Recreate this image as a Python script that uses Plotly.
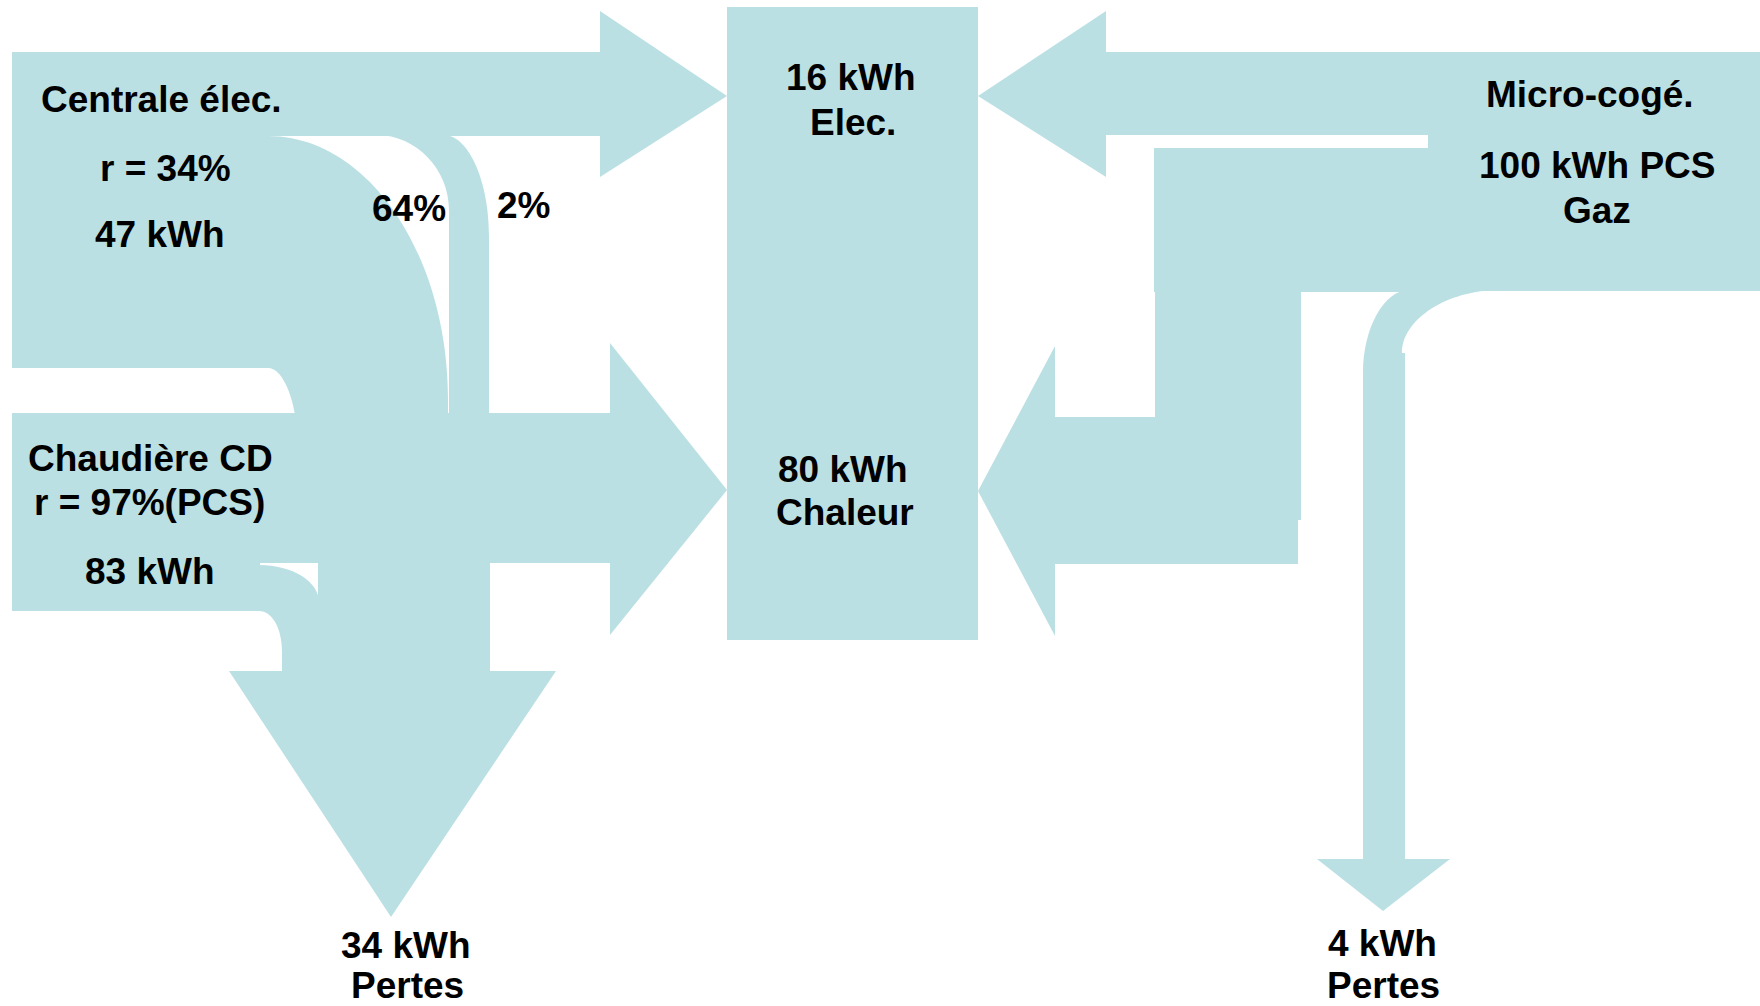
import plotly.graph_objects as go

# ---------------- data ----------------
source_names = ["Centrale élec.", "Chaudière CD", "Micro-cogé."]
source_efficiency = ["r = 34%", "r = 97%(PCS)", ""]
source_kwh = [47, 83, 100]
central_outputs = ["Elec.", "Chaleur"]
central_kwh = [16, 80]
split_pct = [64, 2]
loss_kwh = [34, 4]
loss_label = "Pertes"
gas_label = "Gaz"

COLOR = "rgb(187,224,227)"
FONT = "Liberation Sans, Arial, sans-serif"
FS = 37

W, H = 1760, 1006

fig = go.Figure()
fig.add_trace(go.Scatter(x=[0, W], y=[0, H], mode="markers",
                         marker=dict(opacity=0), hoverinfo="skip", showlegend=False))

shapes = []


def rect(x0, y0, x1, y1):
    shapes.append(dict(type="rect", xref="x", yref="y", x0=x0, y0=y0, x1=x1, y1=y1,
                       fillcolor=COLOR, line=dict(width=0), layer="below"))


def path(d):
    shapes.append(dict(type="path", xref="x", yref="y", path=d,
                       fillcolor=COLOR, line=dict(width=0), layer="below"))


# ---------- left side ----------
rect(12, 52, 269, 368)              # Centrale élec. block
rect(268, 52, 601, 136)             # elec band to centre
path("M 600,11 L 727,96 L 600,177 Z")   # elec arrowhead
# 64 % flow (curved down)
path("M 268,136 C 368,136 448,254 448,400 L 448,421 L 295,421 L 295,415 "
     "C 292,395 282,368 268,368 Z")
# 2 % flow (thin curved strip)
path("M 377,135 C 416,135 449,169 449,210 L 449,421 L 489,421 L 489,235 "
     "C 489,180 468,135 444,135 Z")
rect(12, 413, 611, 563)             # Chaudière upper part + heat band
path("M 610,343 L 727,490 L 610,635 Z")  # heat arrowhead
rect(12, 560, 260, 611)             # Chaudière lower part
# Chaudière losses (curved)
path("M 259,565 C 292.6,565 319,581.6 319,602 L 319,672 L 282,672 L 282,652 "
     "C 282,628 272.1,611 259,611 Z")
rect(318, 560, 490, 672)            # loss shaft
path("M 229,671 L 556,671 L 391,917 Z")  # loss arrowhead

# ---------- centre ----------
rect(727, 7, 978, 640)

# ---------- right side ----------
rect(1428, 52, 1760, 291)           # Micro-cogé block
rect(1105, 52, 1429, 135)           # elec band
path("M 1106,11 L 978,96 L 1106,177 Z")  # elec arrowhead
rect(1154, 148, 1429, 292)          # heat upper part
rect(1155, 291, 1301, 520)          # heat shaft
rect(1155, 417, 1298, 564)
rect(1054, 417, 1298, 564)          # heat band
path("M 1055,346 L 978,491 L 1055,636 Z")  # heat arrowhead
# losses curve
path("M 1409,290 C 1384,290 1363,328.3 1363,373 L 1363,860 L 1405,860 L 1405,353 "
     "L 1402,353 C 1402,319.3 1447,290 1500,290 Z")
path("M 1317,859 L 1450,859 L 1383,911 Z")  # loss arrowhead

# ---------------- text ----------------
texts = [
    (source_names[0], 161, 99),
    (source_efficiency[0], 165, 168),
    (f"{source_kwh[0]} kWh", 160, 234),
    (f"{split_pct[0]}%", 409, 208),
    (f"{split_pct[1]}%", 523, 205),
    (f"{central_kwh[0]} kWh", 851, 77),
    (central_outputs[0], 853, 122),
    (f"{central_kwh[1]} kWh", 843, 469),
    (central_outputs[1], 845, 512),
    (source_names[1], 150, 458),
    (source_efficiency[1], 149, 502),
    (f"{source_kwh[1]} kWh", 150, 571),
    (f"{loss_kwh[0]} kWh", 406, 945),
    (loss_label, 407, 985),
    (source_names[2], 1590, 94),
    (f"{source_kwh[2]} kWh PCS", 1597, 165),
    (gas_label, 1597, 210),
    (f"{loss_kwh[1]} kWh", 1382, 943),
    (loss_label, 1383, 985),
]
annotations = [dict(x=x, y=y, xref="x", yref="y", text=f"<b>{t}</b>", showarrow=False,
                    xanchor="center", yanchor="middle",
                    font=dict(family=FONT, size=FS, color="black"))
               for t, x, y in texts]

fig.update_layout(
    width=W, height=H, autosize=False,
    margin=dict(l=0, r=0, t=0, b=0),
    paper_bgcolor="white", plot_bgcolor="white",
    xaxis=dict(range=[0, W], visible=False, fixedrange=True),
    yaxis=dict(range=[H, 0], visible=False, fixedrange=True),
    shapes=shapes, annotations=annotations, showlegend=False,
)
fig.write_html("out.html", config={"displayModeBar": False})
